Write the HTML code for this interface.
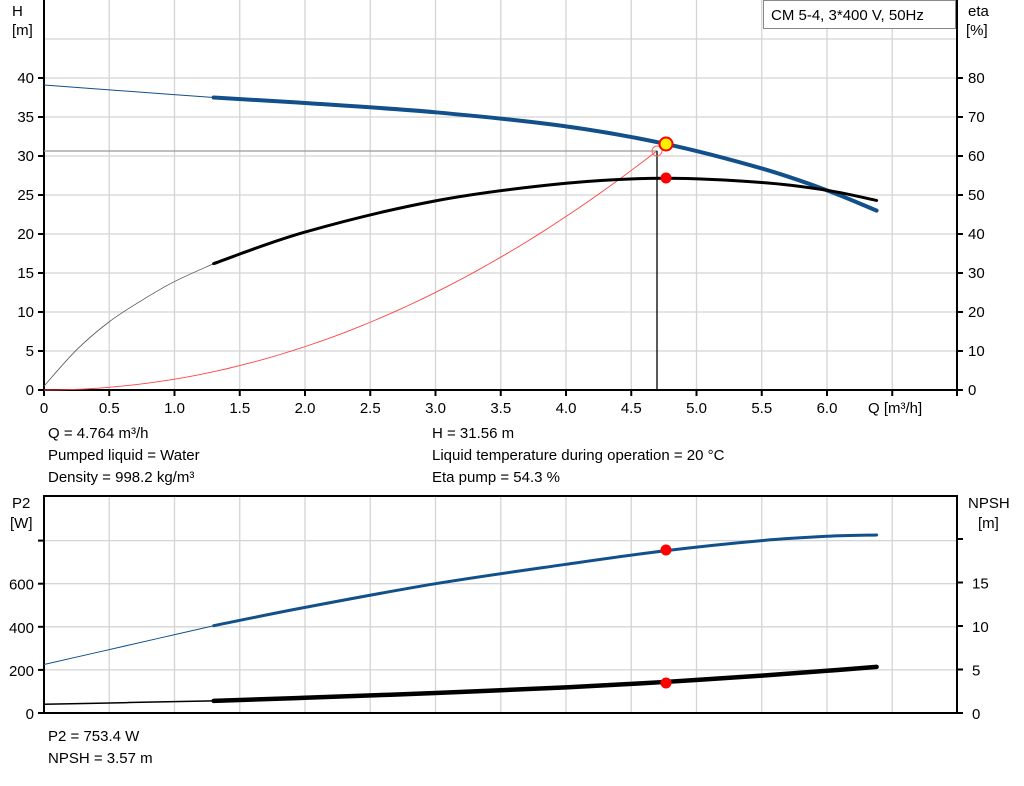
<!DOCTYPE html>
<html><head><meta charset="utf-8"><style>
body{margin:0;background:#fff;width:1024px;height:781px;overflow:hidden}
svg text{font-family:"Liberation Sans",Arial,sans-serif;font-size:15px;fill:#000}
</style></head><body>
<svg id="s" width="1024" height="781" xmlns="http://www.w3.org/2000/svg">
<g id="grid" stroke="#d4d4d4" stroke-width="1.3"></g>
<g id="axes" stroke="#000" stroke-width="2" fill="none"></g>
<g id="curves" fill="none"></g>
<g id="txt"></g>
<rect x="763.5" y="0.5" width="192" height="28" fill="#fff" stroke="#888"/>
<text x="771" y="20">CM 5-4, 3*400 V, 50Hz</text>
</svg>
<script>
const NS="http://www.w3.org/2000/svg";
function el(p,t,a,txt){const e=document.createElementNS(NS,t);for(const k in a)e.setAttribute(k,a[k]);if(txt!==undefined)e.textContent=txt;document.getElementById(p).appendChild(e);return e;}
const X=q=>44+q*130.5;
const yH=h=>390-h*7.8, yE=e=>390-e*3.9, yP=p=>713-p*0.2155, yN=n=>713-n*8.7;
for(let k=1;k<14;k++){const x=X(k*0.5);el('grid','line',{x1:x,y1:0,x2:x,y2:390});el('grid','line',{x1:x,y1:496,x2:x,y2:713});}
for(let h=5;h<=45;h+=5)el('grid','line',{x1:44,y1:yH(h),x2:957,y2:yH(h)});
for(let p=200;p<=800;p+=200)el('grid','line',{x1:44,y1:yP(p),x2:957,y2:yP(p)});
el('axes','path',{d:"M44,0V390H957V0"});
el('axes','path',{d:"M44,496H957V713H44Z"});
for(let h=0;h<=40;h+=5){el('axes','line',{x1:38,y1:yH(h),x2:44,y2:yH(h)});el('txt','text',{x:34,y:yH(h)+5,'text-anchor':'end'},h);}
for(let e=0;e<=80;e+=10){el('axes','line',{x1:957,y1:yE(e),x2:963,y2:yE(e)});el('txt','text',{x:968,y:yE(e)+5},e);}
for(let k=0;k<14;k++){const x=X(k*0.5);el('axes','line',{x1:x,y1:390,x2:x,y2:396});if(k<=12)el('txt','text',{x:x,y:413,'text-anchor':'middle'},k==0?'0':(k*0.5).toFixed(1));}
el('axes','line',{x1:957,y1:390,x2:957,y2:396});
el('txt','text',{x:868,y:413},'Q [m³/h]');
el('txt','text',{x:12,y:16},'H');el('txt','text',{x:12,y:35},'[m]');
el('txt','text',{x:968,y:16},'eta');el('txt','text',{x:966,y:35},'[%]');
for(let p=0;p<=800;p+=200){el('axes','line',{x1:38,y1:yP(p),x2:44,y2:yP(p)});if(p<800)el('txt','text',{x:34,y:yP(p)+6,'text-anchor':'end'},p);}
for(let n=0;n<=20;n+=5){el('axes','line',{x1:957,y1:yN(n),x2:963,y2:yN(n)});if(n<20)el('txt','text',{x:972,y:yN(n)+6},n);}
el('txt','text',{x:12,y:508},'P2');el('txt','text',{x:10,y:528},'[W]');
el('txt','text',{x:968,y:508},'NPSH');el('txt','text',{x:978,y:528},'[m]');
[[48,438,'Q = 4.764 m³/h'],[48,460,'Pumped liquid = Water'],[48,482,'Density = 998.2 kg/m³'],
 [432,438,'H = 31.56 m'],[432,460,'Liquid temperature during operation = 20 °C'],[432,482,'Eta pump = 54.3 %'],
 [48,741,'P2 = 753.4 W'],[48,763,'NPSH = 3.57 m']].forEach(t=>el('txt','text',{x:t[0],y:t[1]},t[2]));
function cr(pts){let d="M"+pts[0][0]+","+pts[0][1];for(let i=0;i<pts.length-1;i++){const p0=pts[i-1]||pts[i],p1=pts[i],p2=pts[i+1],p3=pts[i+2]||p2;
d+=` C${p1[0]+(p2[0]-p0[0])/6},${p1[1]+(p2[1]-p0[1])/6} ${p2[0]-(p3[0]-p1[0])/6},${p2[1]-(p3[1]-p1[1])/6} ${p2[0]},${p2[1]}`;}return d;}
function curve(data,fy,col,w1,w2,col1){const pts=data.map(p=>[X(p[0]),fy(p[1])]);
const i=data.findIndex(p=>p[0]>=1.3);
el('curves','path',{d:cr(pts.slice(0,i+1)),stroke:col1||col,'stroke-width':w1});
el('curves','path',{d:cr(pts.slice(i)),stroke:col,'stroke-width':w2,'stroke-linecap':'round'});}
let sc=[];for(let q=0;q<=4.7;q+=0.1)sc.push([X(q),yH(1.39*q*q)]);
el('curves','path',{d:"M"+sc.map(p=>p.join(",")).join("L"),stroke:"#f44",'stroke-width':0.9});
el('curves','line',{x1:44,y1:151,x2:657,y2:151,stroke:'#999','stroke-width':1.3});
el('curves','line',{x1:657,y1:151,x2:657,y2:390,stroke:'#000','stroke-width':1.3});
curve([[0,39.1],[0.65,38.3],[1.3,37.5],[2,36.8],[3,35.6],[4,33.8],[4.76,31.56],[5.5,28.4],[6,25.6],[6.38,23.0]],yH,'#11508a',1,4);
curve([[0,1],[0.25,10.3],[0.5,17.5],[0.75,23],[1.0,27.8],[1.3,32.4],[2,40.5],[3,48.5],[4,53],[4.76,54.3],[5.5,53.2],[6,51.2],[6.38,48.6]],yE,'#000',0.8,3,'#555');
curve([[0,225],[0.65,315],[1.3,405],[2,490],[3,600],[4,690],[4.76,753],[5.5,800],[6,820],[6.38,826]],yP,'#11508a',1,3);
curve([[0,1.0],[0.65,1.2],[1.3,1.4],[2,1.75],[3,2.3],[4,2.95],[4.76,3.57],[5.5,4.3],[6,4.85],[6.38,5.3]],yN,'#000',1.5,4.5);
el('curves','circle',{cx:657,cy:151,r:5,stroke:'#f66','stroke-width':1});
el('curves','circle',{cx:666,cy:144,r:6.5,fill:'#ffef00',stroke:'#f00','stroke-width':2});
el('curves','circle',{cx:666,cy:178,r:5.5,fill:'#f00'});
el('curves','circle',{cx:666,cy:550,r:5.5,fill:'#f00'});
el('curves','circle',{cx:666,cy:683,r:5.5,fill:'#f00'});
</script>
</body></html>
